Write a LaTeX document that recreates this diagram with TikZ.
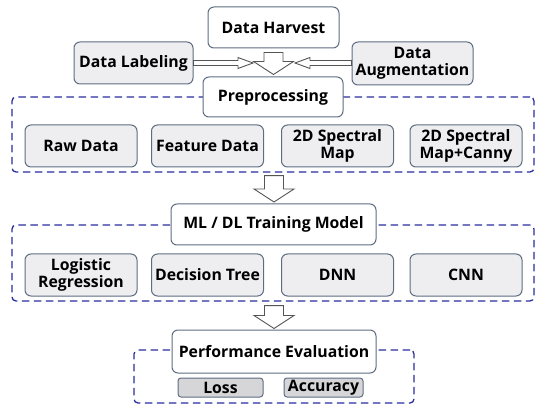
\documentclass[tikz,border=0pt]{standalone}
\usepackage{fontspec}
\setmainfont{Open Sans}
\usetikzlibrary{calc}
\definecolor{boxline}{RGB}{95,108,130}
\definecolor{boxfill}{RGB}{238,238,240}
\definecolor{darkfill}{RGB}{214,214,216}
\definecolor{dashblue}{RGB}{42,46,158}
\definecolor{arrline}{RGB}{85,85,85}
\tikzset{
  base/.style={draw=boxline, line width=1pt, rounded corners=6pt, inner sep=0pt, align=center,
    font=\fontsize{15.8}{17}\selectfont\bfseries, text=black},
  whitebox/.style={base, fill=white},
  graybox/.style={base, fill=boxfill, minimum width=112pt, minimum height=42pt},
  smallbox/.style={base, fill=darkfill, rounded corners=3pt, minimum width=85pt, minimum height=19pt},
  group/.style={draw=dashblue, line width=1.3pt, dash pattern=on 7.5pt off 4.5pt, rounded corners=4pt, inner sep=0pt},
  blockarrow/.style={draw=arrline, fill=white, line width=0.9pt, line join=miter},
  hollow/.style={draw=arrline, fill=white, line width=0.9pt, line join=miter}
}
\newcommand\blockarr[2]{\draw[blockarrow] let \p1=(#1), \p2=(#2) in
  (\x2-9.5pt,\y1) -- (\x2+9.5pt,\y1) -- (\x2+9.5pt,\y2+13pt) -- (\x2+20pt,\y2+13pt) --
  (\x2,\y2) -- (\x2-20pt,\y2+13pt) -- (\x2-9.5pt,\y2+13pt) -- cycle;}
\begin{document}
\begin{tikzpicture}[x=1pt,y=-1pt]
\useasboundingbox (0,0) rectangle (542,404);
% dashed groups
\node[group, minimum width=522pt, minimum height=75pt] (g1) at (273,134.5) {};
\node[group, minimum width=522pt, minimum height=76pt] (g2) at (273,263) {};
\node[group, minimum width=280pt, minimum height=53pt] (g3) at (274,376.5) {};
% top nodes
\node[whitebox, minimum width=131pt, minimum height=41pt] (harvest) at (273.5,27.5) {Data Harvest};
\node[graybox, minimum width=119pt] (label) at (133.5,63) {Data Labeling};
\node[graybox, minimum width=121pt, minimum height=43pt] (aug) at (412.5,63.5) {Data\\Augmentation};
\node[whitebox, minimum width=140pt, minimum height=40pt] (prep) at (273,97) {Preprocessing};
% row 1
\node[graybox] (raw) at (81,146) {Raw Data};
\node[graybox] (feat) at (207.5,146) {Feature Data};
\node[graybox] (spec) at (337.5,146) {2D Spectral\\Map};
\node[graybox] (canny) at (466,146) {2D Spectral\\Map+Canny};
% ML
\node[whitebox, minimum width=205pt, minimum height=41pt] (ml) at (273.5,224.5) {ML / DL Training Model};
% row 2
\node[graybox] (lr) at (81,275) {Logistic\\Regression};
\node[graybox] (dt) at (207.5,275) {Decision Tree};
\node[graybox] (dnn) at (337.5,275) {DNN};
\node[graybox] (cnn) at (466,275) {CNN};
% performance
\node[whitebox, minimum width=204pt, minimum height=43pt] (perf) at (274,351.5) {Performance Evaluation};
\node[smallbox] (loss) at (220.5,387.5) {Loss};
\node[smallbox, minimum width=79pt] (acc) at (323.5,387.5) {Accuracy};
% arrows
\coordinate (tipL) at (253,63);
\coordinate (tipR) at (295,63);
\draw[hollow] let \p1=(label.east), \p2=(tipL) in
  (\x1,\y2+2.5pt) -- (\x2-15pt,\y2+2.5pt) -- (\x2-15pt,\y2+5.5pt) -- (\x2,\y2) --
  (\x2-15pt,\y2-5.5pt) -- (\x2-15pt,\y2-2.5pt) -- (\x1,\y2-2.5pt) -- cycle;
\draw[hollow] let \p1=(aug.west), \p2=(tipR) in
  (\x1,\y2+2.5pt) -- (\x2+15pt,\y2+2.5pt) -- (\x2+15pt,\y2+5.5pt) -- (\x2,\y2) --
  (\x2+15pt,\y2-5.5pt) -- (\x2+15pt,\y2-2.5pt) -- (\x1,\y2-2.5pt) -- cycle;
\blockarr{$(harvest.south)+(0,4)$}{$(prep.north)+(0.5,-2)$}
\blockarr{$(g1.south)+(0,3)$}{$(ml.north)+(0.5,-1.5)$}
\blockarr{$(g2.south)+(0,4)$}{$(perf.north)+(0,-1)$}
\end{tikzpicture}
\end{document}
